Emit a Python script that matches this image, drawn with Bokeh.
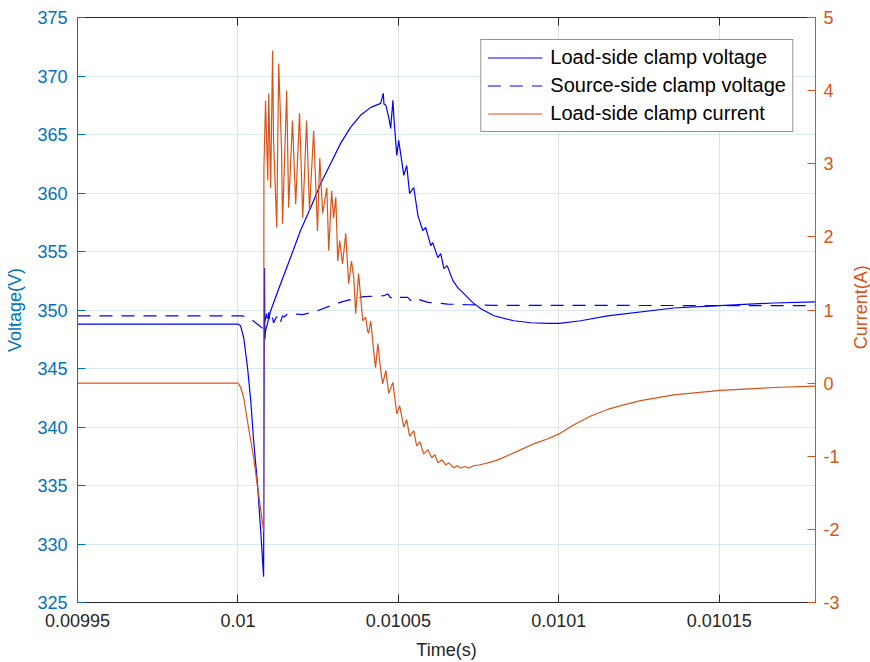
from bokeh.plotting import figure
from bokeh.models import (Range1d, LinearAxis, FixedTicker, CustomJSTickFormatter, Label)
from bokeh.layouts import row
from bokeh.embed import file_html
from bokeh.resources import INLINE
import math

# ---------------- data ----------------
x_ticks = [0.00995, 0.01, 0.01005, 0.0101, 0.01015]
v_ticks = [325, 330, 335, 340, 345, 350, 355, 360, 365, 370, 375]
i_ticks = [-3, -2, -1, 0, 1, 2, 3, 4, 5]

load_t = [0.0099500, 0.0100000, 0.0100008, 0.0100018, 0.0100030, 0.0100040, 0.0100049, 0.0100061,
          0.0100071, 0.0100080, 0.0100082, 0.0100083, 0.0100084, 0.0100086, 0.0100102, 0.0100133,
          0.0100164, 0.0100195, 0.0100227, 0.0100258, 0.0100289, 0.0100320, 0.0100351, 0.0100382,
          0.0100414, 0.0100445, 0.0100453, 0.0100455, 0.0100461, 0.0100470, 0.0100476, 0.0100483,
          0.0100486, 0.0100495, 0.0100501, 0.0100517, 0.0100526, 0.0100535, 0.0100548, 0.0100561,
          0.0100576, 0.0100585, 0.0100601, 0.0100607, 0.0100623, 0.0100632, 0.0100642, 0.0100652,
          0.0100670, 0.0100685, 0.0100704, 0.0100732, 0.0100757, 0.0100798, 0.0100860, 0.0100913,
          0.0100966, 0.0101003, 0.0101068, 0.0101152, 0.0101358, 0.0101501, 0.0101669, 0.0101800]
load_v = [348.80, 348.80, 348.66, 347.63, 345.06, 342.23, 338.81, 335.13,
          331.10, 327.20, 347.37, 353.60, 347.50, 348.20, 349.94, 352.25,
          354.48, 356.79, 358.76, 360.81, 362.53, 364.24, 365.61, 366.64,
          367.32, 367.66, 368.52, 367.60, 367.49, 366.46, 365.52, 367.92,
          366.46, 363.21, 364.50, 361.50, 362.35, 359.96, 360.47, 358.07,
          356.79, 357.05, 355.50, 355.76, 354.48, 354.82, 353.54, 353.79,
          352.51, 351.91, 351.40, 350.63, 350.11, 349.51, 349.08, 348.91,
          348.85, 348.85, 349.08, 349.50, 350.17, 350.37, 350.60, 350.70]

src_t = [0.0099500, 0.0100015, 0.0100030, 0.0100046, 0.0100065, 0.0100080, 0.0100086, 0.0100089,
         0.0100093, 0.0100096, 0.0100099, 0.0100105, 0.0100111, 0.0100117, 0.0100127, 0.0100133,
         0.0100139, 0.0100145, 0.0100155, 0.0100202, 0.0100248, 0.0100289, 0.0100329, 0.0100392,
         0.0100454, 0.0100467, 0.0100476, 0.0100486, 0.0100498, 0.0100529, 0.0100539, 0.0100548,
         0.0100592, 0.0100654, 0.0100717, 0.0100798, 0.0101800]
src_v = [349.50, 349.50, 349.35, 349.10, 348.70, 348.37, 349.26, 349.70,
         348.90, 349.80, 349.26, 349.70, 348.90, 349.26, 349.60, 349.00,
         349.50, 349.40, 349.70, 349.60, 349.94, 350.37, 350.74, 351.14,
         351.22, 351.37, 351.03, 351.22, 351.08, 351.08, 350.80, 351.03,
         350.65, 350.51, 350.45, 350.40, 350.37]

cur_t = [0.0099500, 0.0100000, 0.0100008, 0.0100018, 0.0100033, 0.0100049, 0.0100064, 0.0100080,
         0.0100081, 0.0100086, 0.0100093, 0.0100096, 0.0100102, 0.0100108, 0.0100111, 0.0100121,
         0.0100127, 0.0100136, 0.0100139, 0.0100152, 0.0100158, 0.0100170, 0.0100180, 0.0100192,
         0.0100202, 0.0100214, 0.0100223, 0.0100236, 0.0100248, 0.0100255, 0.0100264, 0.0100277,
         0.0100283, 0.0100292, 0.0100298, 0.0100305, 0.0100311, 0.0100317, 0.0100326, 0.0100336,
         0.0100345, 0.0100354, 0.0100361, 0.0100367, 0.0100376, 0.0100389, 0.0100398, 0.0100404,
         0.0100407, 0.0100414, 0.0100423, 0.0100429, 0.0100436, 0.0100445, 0.0100451, 0.0100461,
         0.0100470, 0.0100483, 0.0100495, 0.0100504, 0.0100517, 0.0100526, 0.0100535, 0.0100548,
         0.0100557, 0.0100567, 0.0100579, 0.0100592, 0.0100604, 0.0100614, 0.0100623, 0.0100636,
         0.0100648, 0.0100657, 0.0100673, 0.0100682, 0.0100695, 0.0100707, 0.0100720, 0.0100735,
         0.0100751, 0.0100779, 0.0100810, 0.0100841, 0.0100882, 0.0100922, 0.0100966, 0.0101003,
         0.0101047, 0.0101100, 0.0101152, 0.0101208, 0.0101255, 0.0101358, 0.0101504, 0.0101669,
         0.0101800]
cur_i = [0.00, 0.00, -0.05, -0.20, -0.61, -1.02, -1.51, -2.02,
         2.95, 3.86, 2.77, 3.96, 2.67, 4.55, 3.32, 2.13,
         4.37, 3.18, 2.18, 4.00, 2.40, 3.59, 2.45, 3.69,
         2.26, 3.59, 2.36, 3.45, 2.08, 3.08, 2.32, 2.67,
         1.81, 2.63, 2.26, 2.54, 1.67, 1.95, 1.63, 2.05,
         1.36, 1.67, 1.44, 0.95, 1.50, 0.85, 0.90, 0.72,
         0.68, 0.85, 0.44, 0.21, 0.54, 0.17, -0.01, 0.17,
         -0.14, 0.01, -0.42, -0.31, -0.60, -0.50, -0.73, -0.65,
         -0.86, -0.80, -0.97, -0.91, -1.02, -0.98, -1.09, -1.05,
         -1.12, -1.09, -1.16, -1.13, -1.16, -1.14, -1.16, -1.13,
         -1.12, -1.09, -1.05, -0.99, -0.91, -0.83, -0.76, -0.69,
         -0.57, -0.45, -0.36, -0.29, -0.24, -0.16, -0.10, -0.06,
         -0.04]

# ---------------- styling ----------------
FONT = "Liberation Sans"
BLUE_AX = "#0072BD"
ORANGE = "#D95319"
DARK = "#262626"

MAIN_W, SIDE_W, H = 850, 20, 662
BL, BR, BT, BB = 77, 35, 17, 60

p = figure(width=MAIN_W, height=H, output_backend="svg", toolbar_location=None,
           x_range=Range1d(0.00995, 0.01018), y_range=Range1d(325, 375),
           min_border_left=BL, min_border_right=BR, min_border_top=BT, min_border_bottom=BB)
p.extra_y_ranges = {"cur": Range1d(-3, 5)}
p.background_fill_color = "white"
p.border_fill_color = "white"
p.outline_line_color = DARK
p.outline_line_width = 1

# grid
p.xgrid.grid_line_color = "#DFDFDF"
p.ygrid.grid_line_color = "#D9E9F5"
p.xgrid.ticker = FixedTicker(ticks=x_ticks)
p.ygrid.ticker = FixedTicker(ticks=v_ticks)

# bottom axis
xa = p.xaxis[0]
xa.ticker = FixedTicker(ticks=x_ticks)
xa.formatter = CustomJSTickFormatter(code="return String(Number(tick.toFixed(6)));")
xa.axis_label = "Time(s)"
xa.axis_line_color = DARK
xa.major_tick_line_color = DARK
xa.major_tick_in = 8
xa.major_tick_out = 0
xa.minor_tick_line_color = None
xa.major_label_text_font = FONT
xa.major_label_text_font_size = "18px"
xa.major_label_text_color = DARK
xa.major_label_standoff = 11
xa.axis_label_text_font = FONT
xa.axis_label_text_font_size = "18px"
xa.axis_label_text_font_style = "normal"
xa.axis_label_text_color = DARK
xa.axis_label_standoff = 10

# top axis (ticks only)
ta = LinearAxis(ticker=FixedTicker(ticks=x_ticks), major_label_text_font_size="0px",
                major_tick_in=8, major_tick_out=0, major_label_standoff=0,
                minor_tick_line_color=None, axis_line_color=DARK, major_tick_line_color=DARK,
                formatter=CustomJSTickFormatter(code="return '';"))
p.add_layout(ta, "above")

# left axis
ya = p.yaxis[0]
ya.ticker = FixedTicker(ticks=v_ticks)
ya.axis_label = "Voltage(V)"
ya.axis_line_color = BLUE_AX
ya.major_tick_line_color = BLUE_AX
ya.major_tick_in = 8
ya.major_tick_out = 0
ya.minor_tick_line_color = None
ya.major_label_text_font = FONT
ya.major_label_text_font_size = "18px"
ya.major_label_text_color = BLUE_AX
ya.major_label_standoff = 10
ya.axis_label_text_font = FONT
ya.axis_label_text_font_size = "18px"
ya.axis_label_text_font_style = "normal"
ya.axis_label_text_color = BLUE_AX
ya.axis_label_standoff = 9

# right axis (its title is drawn in a narrow side strip so it reads bottom-to-top)
ra = LinearAxis(y_range_name="cur", ticker=FixedTicker(ticks=i_ticks),
                formatter=CustomJSTickFormatter(code="return tick.toFixed(0);"))
ra.axis_line_color = ORANGE
ra.major_tick_line_color = ORANGE
ra.major_tick_in = 8
ra.major_tick_out = 0
ra.minor_tick_line_color = None
ra.major_label_text_font = FONT
ra.major_label_text_font_size = "18px"
ra.major_label_text_color = ORANGE
ra.major_label_standoff = 8
p.add_layout(ra, "right")

# lines
p.line(load_t, load_v, line_color="#0000FF", line_width=1.2, legend_label="Load-side clamp voltage")
p.line(src_t, src_v, line_color="#0000FF", line_width=1.2, line_dash="13 9",
       legend_label="Source-side clamp voltage")
p.line(cur_t, cur_i, line_color=ORANGE, line_width=1.2, y_range_name="cur",
       legend_label="Load-side clamp current")

lg = p.legend[0]
lg.location = "top_right"
lg.margin = 22
lg.padding = 6
lg.spacing = 5
lg.label_text_font = FONT
lg.label_text_font_size = "20px"
lg.label_text_color = "#000000"
lg.label_standoff = 8
lg.glyph_width = 55
lg.glyph_height = 21
lg.label_height = 21
lg.border_line_color = DARK
lg.border_line_width = 1
lg.background_fill_color = "white"
lg.background_fill_alpha = 1.0

# narrow strip holding the right-hand axis title
q = figure(width=SIDE_W, height=H, output_backend="svg", toolbar_location=None,
           x_range=Range1d(0, SIDE_W), y_range=Range1d(0, H),
           min_border_left=0, min_border_right=0, min_border_top=0, min_border_bottom=0)
q.axis.visible = False
q.grid.visible = False
q.outline_line_color = None
q.background_fill_color = "white"
q.border_fill_color = "white"
q.add_layout(Label(x=10.5, y=334, text="Current(A)", angle=math.pi / 2,
                   text_align="center", text_baseline="middle", text_font=FONT,
                   text_font_size="18px", text_color=ORANGE))

layout = row(p, q, spacing=0)
open("out.html", "w").write(file_html(layout, INLINE))
